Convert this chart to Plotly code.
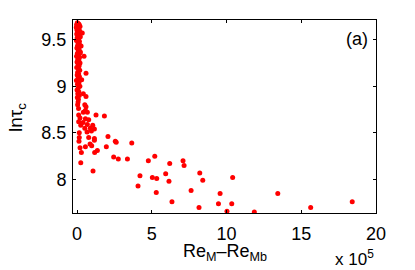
import plotly.graph_objects as go

# Re_M - Re_Mb (units of 1e5) and ln(tau_c)
strip_x = [0.02, 0.10, -0.03, 0.15, 0.05, 0.20, -0.05, 0.08, 0.12, 0.00, 0.18, 0.04, -0.02, 0.14,
           0.07, 0.22, 0.01, 0.11, -0.04, 0.16, 0.06, 0.09, 0.19, 0.03, -0.01, 0.13, 0.08, 0.21,
           0.02, 0.10, -0.03, 0.17, 0.05, 0.12, 0.00, 0.20, 0.07, 0.14, -0.02, 0.09, 0.18, 0.04,
           0.11, 0.01, 0.16, 0.06, -0.04, 0.13, 0.03, 0.19, 0.08, 0.00, 0.12, 0.05, 0.15, 0.02,
           0.09, 0.07, 0.04, 0.10]
strip_y = [9.68, 9.67, 9.66, 9.66, 9.65, 9.64, 9.63, 9.62, 9.61, 9.60, 9.59, 9.58, 9.56, 9.55,
           9.54, 9.53, 9.52, 9.50, 9.49, 9.48, 9.47, 9.45, 9.44, 9.43, 9.41, 9.40, 9.38, 9.37,
           9.35, 9.34, 9.32, 9.31, 9.29, 9.28, 9.26, 9.25, 9.23, 9.22, 9.20, 9.19, 9.17, 9.15,
           9.13, 9.12, 9.10, 9.08, 9.06, 9.04, 9.02, 9.00, 8.98, 8.96, 8.94, 8.92, 8.90, 8.88,
           8.86, 8.83, 8.80, 8.76]

near_x = [0.35, 0.27, 0.22, 0.47, 0.60, 0.31, 0.42, 0.60, 0.60, 0.52, 0.42, 0.69, 0.56, 0.11,
          1.27, 1.83, 0.56, 0.78, 0.40, 0.69, 1.05, 0.52, 0.89, 1.16, 0.67, 0.96, 0.15, 0.78,
          1.16, 2.07, 0.13, 1.16, 2.56, 2.62, 3.66, 0.56, 0.20, 0.87, 0.98, 1.18, 1.36, 1.96,
          0.29, 0.25, 1.07, 2.45, 2.76, 3.37, 0.11, 0.25, 0.20, 0.15]
near_y = [9.57, 9.43, 9.36, 9.32, 9.14, 9.07, 8.92, 8.89, 8.78, 8.80, 8.72, 8.72, 8.74, 8.69,
          8.69, 8.68, 8.65, 8.64, 8.61, 8.59, 8.58, 8.55, 8.55, 8.54, 8.51, 8.52, 8.45, 8.45,
          8.44, 8.46, 8.41, 8.42, 8.41, 8.40, 8.39, 8.35, 8.34, 8.38, 8.36, 8.29, 8.31, 8.35,
          8.29, 8.18, 8.09, 8.24, 8.22, 8.22, 8.62, 8.58, 8.66, 8.50]

far_x = [4.08, 4.21, 4.77, 5.04, 5.20, 5.33, 5.30, 5.93, 6.15, 6.20, 6.35, 7.09, 7.16, 7.63,
         8.16, 8.21, 8.41, 9.57, 9.46, 10.41, 10.35, 10.03, 11.86, 13.43, 15.63, 18.41]
far_y = [7.93, 8.04, 8.20, 8.02, 8.25, 8.01, 7.86, 8.06, 7.98, 8.17, 7.76, 8.20, 8.15, 7.88,
         7.70, 8.07, 7.99, 7.85, 7.74, 8.02, 7.74, 7.66, 7.65, 7.85, 7.70, 7.76]

x_vals = strip_x + near_x + far_x
y_vals = strip_y + near_y + far_y

x_ticks = [0, 5, 10, 15, 20]
y_ticks = [8, 8.5, 9, 9.5]

font = "Liberation Sans, Arial, sans-serif"

W, H = 415, 270
L, R, T, B = 73, 39, 20, 57
pw, ph = W - L - R, H - T - B


def px2paper(px, py):
    return (px - L) / pw, (H - B - py) / ph


fig = go.Figure(go.Scatter(
    x=x_vals, y=y_vals, mode="markers",
    marker=dict(color="#ff0000", size=5, line=dict(width=0)),
))

axis_common = dict(
    showgrid=False, zeroline=False, showline=True, linecolor="black", linewidth=1,
    mirror="ticks", ticks="inside", ticklen=3, tickcolor="black", automargin=False,
    tickfont=dict(family=font, size=18, color="black"),
)

ann_specs = [
    ("(a)", 357, 39, 18, 0),
    ("Re<sub>M</sub>\u2013Re<sub>Mb</sub>", 225, 252, 18, 0),
    ("x 10<sup>5</sup>", 354, 258, 17, 0),
    ("ln\u03c4<sub>c</sub>", 17, 118, 19, -90),
]
annotations = []
for text, px, py, size, ang in ann_specs:
    ax, ay = px2paper(px, py)
    annotations.append(dict(text=text, x=ax, y=ay, xref="paper", yref="paper",
                            xanchor="center", yanchor="middle", showarrow=False,
                            textangle=ang, font=dict(family=font, size=size, color="black")))

fig.update_layout(
    width=W, height=H,
    margin=dict(l=L, r=R, t=T, b=B, autoexpand=False),
    paper_bgcolor="white", plot_bgcolor="white",
    showlegend=False,
    xaxis=dict(range=[-0.27, 20], tickvals=x_ticks, ticktext=[str(v) for v in x_ticks],
               ticklabelstandoff=4, **axis_common),
    yaxis=dict(range=[7.64, 9.71], tickvals=y_ticks, ticktext=[str(v) for v in y_ticks],
               ticklabelstandoff=2, **axis_common),
    annotations=annotations,
)

fig.write_html("out.html", config={"displayModeBar": False},
               post_script="document.body.style.margin='0px';document.body.style.padding='0px';")
